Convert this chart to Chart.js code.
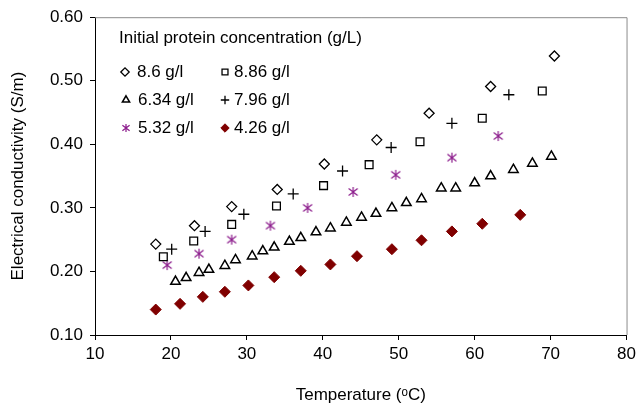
<!DOCTYPE html>
<html>
<head>
<meta charset="utf-8">
<script src="https://cdn.jsdelivr.net/npm/chart.js@4.4.0/dist/chart.umd.min.js"></script>
<style>
  html, body { margin: 0; padding: 0; background: #fff; }
  canvas { display: block; }
</style>
</head>
<body>
<canvas id="ecChart" width="640" height="405"></canvas>
<script>
// temperature (oC) and electrical conductivity (S/m), one pair of arrays per concentration
const temp860 = [18.0, 23.1, 28.0, 34.0, 40.2, 47.1, 54.0, 62.1, 70.5];
const ec860   = [0.243, 0.272, 0.302, 0.329, 0.369, 0.407, 0.449, 0.491, 0.539];

const temp886 = [19.0, 23.0, 28.0, 33.9, 40.1, 46.1, 52.8, 61.0, 68.9];
const ec886   = [0.223, 0.248, 0.274, 0.303, 0.335, 0.368, 0.404, 0.441, 0.484];

const temp634 = [20.6, 22.0, 23.7, 25.0, 27.1, 28.5, 30.7, 32.1, 33.6, 35.6, 37.1, 39.1, 41.0,
                 43.1, 45.1, 47.0, 49.1, 51.0, 53.0, 55.6, 57.5, 60.0, 62.1, 65.1, 67.6, 70.1];
const ec634   = [0.184, 0.190, 0.198, 0.203, 0.209, 0.218, 0.224, 0.232, 0.238, 0.247, 0.253, 0.262, 0.268,
                 0.277, 0.285, 0.291, 0.300, 0.308, 0.314, 0.331, 0.331, 0.339, 0.350, 0.360, 0.370, 0.381];

const temp796 = [20.1, 24.5, 29.6, 36.1, 42.6, 49.0, 57.0, 64.5];
const ec796   = [0.235, 0.263, 0.290, 0.322, 0.358, 0.395, 0.433, 0.478];

const temp532 = [19.5, 23.7, 28.0, 33.1, 38.0, 44.0, 49.6, 57.0, 63.1];
const ec532   = [0.210, 0.228, 0.250, 0.272, 0.300, 0.325, 0.352, 0.379, 0.413];

const temp426 = [18.0, 21.2, 24.2, 27.1, 30.2, 33.6, 37.1, 41.0, 44.5, 49.1, 53.0, 57.0, 61.0, 66.0];
const ec426   = [0.140, 0.149, 0.160, 0.168, 0.178, 0.191, 0.201, 0.211, 0.224, 0.235, 0.249, 0.263, 0.275, 0.289];

const legendTitle = 'Initial protein concentration (g/L)';
const xTicks = [10, 20, 30, 40, 50, 60, 70, 80];
const yTicks = [0.10, 0.20, 0.30, 0.40, 0.50, 0.60];

const FONT = "'Liberation Sans', Arial, sans-serif";
const PURPLE = '#8c1c8c';
const DARKRED = '#800000';

function pairs(xs, ys) {
    return xs.map((x, i) => ({ x: x, y: ys[i] }));
}

// excel-like asterisk marker: vertical bar plus an X
function makeAsterisk(size, color) {
    const c = document.createElement('canvas');
    c.width = size; c.height = size;
    const g = c.getContext('2d');
    g.strokeStyle = color;
    g.lineWidth = 1.2;
    const m = size / 2, r = size / 2 - 1;
    g.beginPath();
    g.moveTo(m, m - r); g.lineTo(m, m + r);
    g.moveTo(m - r * 0.9, m - r * 0.7); g.lineTo(m + r * 0.9, m + r * 0.7);
    g.moveTo(m + r * 0.9, m - r * 0.7); g.lineTo(m - r * 0.9, m + r * 0.7);
    g.stroke();
    return c;
}
const asterisk = makeAsterisk(12, PURPLE);
const asteriskSmall = makeAsterisk(10, PURPLE);

const datasets = [
    { label: '8.6 g/l', data: pairs(temp860, ec860), pointStyle: 'rectRot', pointRadius: 5,
      backgroundColor: '#fff', borderColor: '#000', borderWidth: 1.3 },
    { label: '8.86 g/l', data: pairs(temp886, ec886), pointStyle: 'rect', pointRadius: 5.5,
      backgroundColor: '#fff', borderColor: '#000', borderWidth: 1.3 },
    { label: '6.34 g/l', data: pairs(temp634, ec634), pointStyle: 'triangle', pointRadius: 5.5,
      backgroundColor: '#fff', borderColor: '#000', borderWidth: 1.5 },
    { label: '7.96 g/l', data: pairs(temp796, ec796), pointStyle: 'cross', pointRadius: 5.5,
      backgroundColor: '#000', borderColor: '#000', borderWidth: 1.3 },
    { label: '5.32 g/l', data: pairs(temp532, ec532), pointStyle: asterisk, pointRadius: 5.5,
      backgroundColor: PURPLE, borderColor: PURPLE, borderWidth: 1 },
    { label: '4.26 g/l', data: pairs(temp426, ec426), pointStyle: 'rectRot', pointRadius: 5.5,
      backgroundColor: DARKRED, borderColor: DARKRED, borderWidth: 1 }
];

// grey frame on top/right of the plot area
const framePlugin = {
    id: 'frame',
    beforeDatasetsDraw(chart) {
        const a = chart.chartArea, ctx = chart.ctx;
        ctx.save();
        ctx.strokeStyle = '#8c8c8c';
        ctx.lineWidth = 1;
        ctx.beginPath();
        ctx.moveTo(a.left, a.top + 0.5);
        ctx.lineTo(a.right + 0.5, a.top + 0.5);
        ctx.lineTo(a.right + 0.5, a.bottom);
        ctx.stroke();
        ctx.restore();
    }
};

// two-column legend inside the plot, like the original
const legendPlugin = {
    id: 'innerLegend',
    afterDraw(chart) {
        const ctx = chart.ctx;
        const order = [[0, 125, 72], [1, 225, 72], [2, 126, 100], [3, 225, 100], [4, 126, 128], [5, 225, 128]];
        ctx.save();
        ctx.fillStyle = '#000';
        ctx.font = '17px ' + FONT;
        ctx.textBaseline = 'middle';
        ctx.fillText(legendTitle, 119, 38);
        order.forEach(([i, mx, my]) => {
            const ds = chart.data.datasets[i];
            let style = ds.pointStyle;
            if (style === asterisk) style = asteriskSmall;
            ctx.fillStyle = ds.backgroundColor;
            ctx.strokeStyle = ds.borderColor;
            ctx.lineWidth = ds.borderWidth;
            Chart.helpers.drawPoint(ctx, { pointStyle: style, radius: 4.2, rotation: 0, borderWidth: ds.borderWidth }, mx, my);
            ctx.fillStyle = '#000';
            ctx.fillText(ds.label, mx + (i % 2 === 0 ? 12 : 9), my);
        });
        ctx.restore();
    }
};

new Chart(document.getElementById('ecChart').getContext('2d'), {
    type: 'scatter',
    data: { datasets: datasets },
    options: {
        responsive: false,
        animation: false,
        devicePixelRatio: 1,
        layout: { padding: { left: 0, right: 12, top: 15, bottom: 0 } },
        plugins: { legend: { display: false }, tooltip: { enabled: false } },
        scales: {
            x: {
                type: 'linear',
                min: xTicks[0], max: xTicks[xTicks.length - 1],
                afterBuildTicks: s => { s.ticks = xTicks.map(v => ({ value: v })); },
                afterFit: s => { s.height = 70; },
                grid: { display: true, drawOnChartArea: false, drawTicks: true, tickLength: 5, color: '#000' },
                border: { color: '#000', width: 1 },
                ticks: { color: '#000', padding: 4, font: { family: FONT, size: 17 } },
                title: {
                    display: true, text: 'Temperature (ᵒC)', color: '#000',
                    font: { family: FONT, size: 17, lineHeight: 1 },
                    padding: { top: 0, bottom: 1 }
                }
            },
            y: {
                type: 'linear',
                min: yTicks[0], max: yTicks[yTicks.length - 1],
                afterBuildTicks: s => { s.ticks = yTicks.map(v => ({ value: v })); },
                afterFit: s => { s.width = 95; },
                grid: { display: true, drawOnChartArea: false, drawTicks: true, tickLength: 5, color: '#000' },
                border: { color: '#000', width: 1 },
                ticks: { color: '#000', padding: 7, font: { family: FONT, size: 17 },
                         callback: v => v.toFixed(2) },
                title: {
                    display: true, text: 'Electrical conductivity (S/m)', color: '#000',
                    font: { family: FONT, size: 17, lineHeight: 1.2 },
                    padding: { top: 8, bottom: 0 }
                }
            }
        }
    },
    plugins: [framePlugin, legendPlugin]
});
</script>
</body>
</html>
